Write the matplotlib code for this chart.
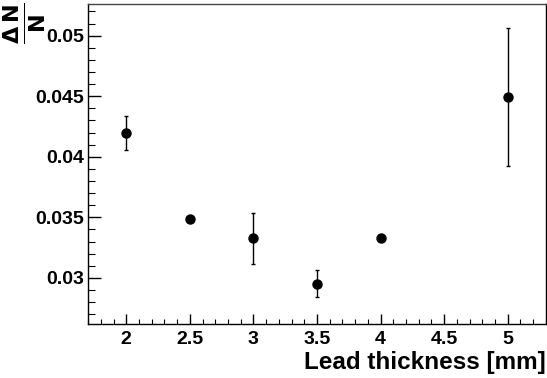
import matplotlib
matplotlib.use("Agg")
import matplotlib.pyplot as plt
from matplotlib.ticker import MultipleLocator, FuncFormatter

# Lead thickness scan
thickness_mm = [2.0, 2.5, 3.0, 3.5, 4.0, 5.0]
rel_spread = [0.0420, 0.03483, 0.03326, 0.02953, 0.03326, 0.0449]
rel_spread_err = [0.0014, 0.0001, 0.0021, 0.0011, 0.0001, 0.0057]

plt.rcParams["font.family"] = ["Liberation Sans", "DejaVu Sans"]
plt.rcParams["font.weight"] = "bold"

fig = plt.figure(figsize=(5.47, 3.78), dpi=100)
ax = fig.add_axes([0.161, 0.143, 0.837, 0.846])

ax.errorbar(thickness_mm, rel_spread, yerr=rel_spread_err, fmt="o", color="black",
            markersize=6.5, elinewidth=1.0, capsize=1.2, capthick=1.0)

ax.set_xlim(1.7, 5.3)
ax.set_ylim(0.0262, 0.0526)

ax.xaxis.set_major_locator(MultipleLocator(0.5))
ax.xaxis.set_minor_locator(MultipleLocator(0.1))
ax.yaxis.set_major_locator(MultipleLocator(0.005))
ax.yaxis.set_minor_locator(MultipleLocator(0.001))
ax.xaxis.set_major_formatter(FuncFormatter(lambda v, p: "%g" % v))
ax.yaxis.set_major_formatter(FuncFormatter(lambda v, p: "%g" % round(v, 4)))

ax.tick_params(axis="x", which="both", direction="in", top=False, labelsize=14, pad=5)
ax.tick_params(axis="x", which="major", length=7, width=1)
ax.tick_params(axis="x", which="minor", length=3.4, width=0.8)
ax.tick_params(axis="y", which="both", direction="in", right=False, labelsize=14, pad=3)
ax.tick_params(axis="y", which="major", length=9.5, width=1)
ax.tick_params(axis="y", which="minor", length=5, width=0.8)

for s in ax.spines.values():
    s.set_linewidth(1.0)
ax.spines["top"].set_color("#444444")

ax.set_xlabel("Lead thickness [mm]", fontsize=17.5, fontweight="bold", loc="right", labelpad=2)

fig.text(0.003, 0.995, r"$\frac{\Delta\,\mathbf{N}}{\mathbf{N}}$", rotation=90,
         fontsize=23, ha="left", va="top")

plt.savefig("out.png", dpi=100)
